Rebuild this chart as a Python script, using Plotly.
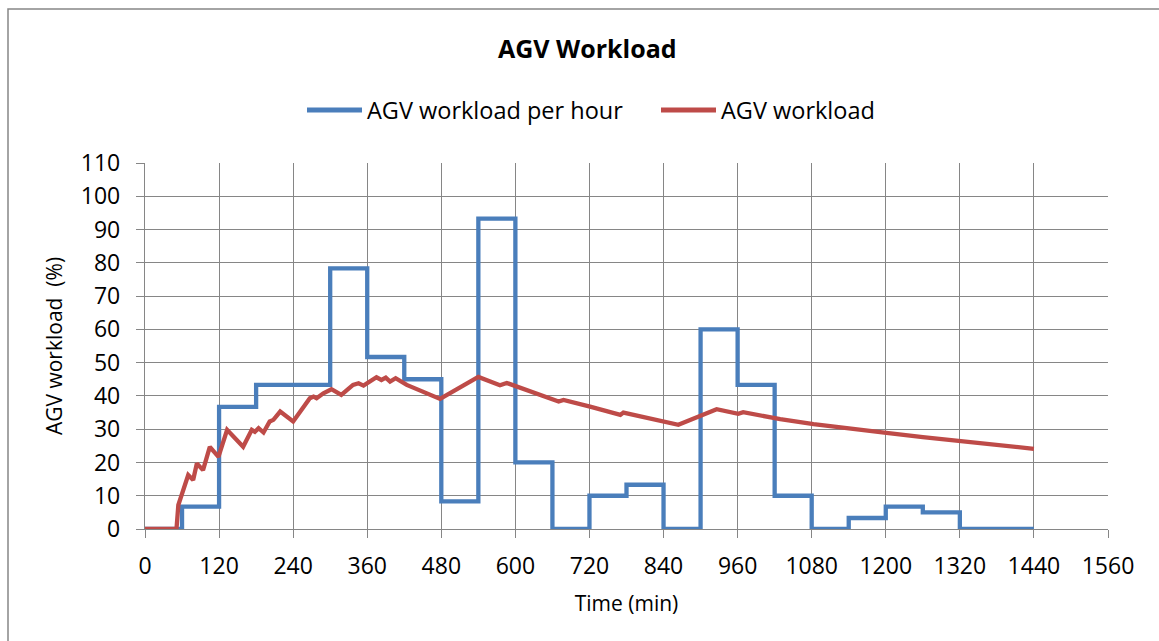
import plotly.graph_objects as go

# Hourly workload (step series), value holds from each hour start
hour_start = [0, 60, 120, 180, 240, 300, 360, 420, 480, 540, 600, 660, 720, 780,
              840, 900, 960, 1020, 1080, 1140, 1200, 1260, 1320, 1380, 1440]
hourly_load = [0, 6.7, 36.7, 43.3, 43.3, 78.3, 51.7, 45.0, 8.3, 93.3, 20.0, 0, 10.0,
               13.3, 0, 60.0, 43.3, 10.0, 0, 3.3, 6.7, 5.0, 0, 0, 0]

# Running workload curve
run_time = [0, 51, 54, 62, 70, 78, 84, 94, 105, 119, 133, 159, 173, 178, 184, 192,
            202, 208, 219, 240, 267, 273, 278, 289, 302, 318, 337, 346, 354, 375,
            383, 390, 397, 406, 424, 478, 540, 575, 586, 670, 678, 721, 770, 775,
            864, 926, 961, 969, 1029, 1083, 1153, 1158, 1201, 1260, 1315, 1380, 1440]
run_load = [0, 0, 7.2, 11.7, 16.2, 14.7, 19.7, 17.7, 24.7, 21.7, 29.8, 24.7, 29.8,
            29.2, 30.3, 29.0, 32.3, 32.8, 35.3, 32.3, 39.3, 39.8, 39.3, 40.8, 42.0,
            40.3, 43.3, 43.8, 43.1, 45.6, 44.8, 45.5, 44.3, 45.3, 43.3, 39.1, 45.7,
            43.2, 43.9, 38.3, 38.8, 36.8, 34.3, 35.0, 31.3, 36.0, 34.6, 35.1, 33.0,
            31.5, 29.8, 29.9, 28.9, 27.6, 26.5, 25.2, 24.1]

x_ticks = list(range(0, 1561, 120))
y_ticks = list(range(0, 111, 10))

series_names = ["AGV workload per hour", "AGV workload"]

BLUE = "#4A7EBB"
RED = "#BE4B48"
GRID = "#868686"
FONT = "Open Sans"

# plot area in pixels (used to place the frame, title and legend in paper units)
W, H = 1159, 641
L, R, T, B = 145, 51, 163, 112
PW, PH = W - L - R, H - T - B


def px_x(p):
    return (p - L) / PW


def px_y(p):
    return (H - B - p) / PH


fig = go.Figure()
fig.add_trace(go.Scatter(x=hour_start, y=hourly_load, mode="lines", line_shape="hv",
                         name=series_names[0], showlegend=False,
                         line=dict(color=BLUE, width=4.3)))
fig.add_trace(go.Scatter(x=run_time, y=run_load, mode="lines",
                         name=series_names[1], showlegend=False,
                         line=dict(color=RED, width=4.3)))

axis_common = dict(showgrid=True, gridcolor=GRID, gridwidth=1.3,
                   showline=True, linecolor=GRID, linewidth=1.3,
                   ticks="outside", ticklen=8, tickcolor=GRID, tickwidth=1.3,
                   zeroline=False, tickfont=dict(family=FONT, size=23, color="#000"))

fig.update_xaxes(range=[0, 1560], tickvals=x_ticks, ticktext=[str(v) for v in x_ticks],
                 ticklabelstandoff=8,
                 title=dict(text="Time (min)", font=dict(family=FONT, size=21, color="#000"),
                            standoff=16),
                 **axis_common)
fig.update_yaxes(range=[0, 110], tickvals=y_ticks, ticktext=[str(v) for v in y_ticks],
                 ticklabelstandoff=11,
                 title=dict(text="AGV workload \u00a0(%)", font=dict(family=FONT, size=21, color="#000"),
                            standoff=12),
                 **axis_common)

# legend drawn as line samples plus labels
legend_items = [(series_names[0], BLUE, 307, 362, 365),
                (series_names[1], RED, 661, 716, 719)]
shapes = [dict(type="rect", xref="paper", yref="paper",
               x0=px_x(8), x1=px_x(W + 5), y0=px_y(H + 5), y1=px_y(9),
               line=dict(color=GRID, width=1.5), fillcolor="rgba(0,0,0,0)",
               layer="below")]
annotations = []
for name, color, x0, x1, xt in legend_items:
    shapes.append(dict(type="line", xref="paper", yref="paper",
                       x0=px_x(x0), x1=px_x(x1), y0=px_y(110), y1=px_y(110),
                       line=dict(color=color, width=5)))
    annotations.append(dict(text=name, xref="paper", yref="paper",
                            x=px_x(xt), y=px_y(110), xanchor="left", yanchor="middle",
                            showarrow=False,
                            font=dict(family=FONT, size=23.5, color="#000")))

# chart title
annotations.append(dict(text="<b>AGV Workload</b>", xref="paper", yref="paper",
                        x=px_x(587), y=px_y(48), xanchor="center", yanchor="middle",
                        showarrow=False,
                        font=dict(family=FONT, size=25, color="#000")))

fig.update_layout(
    width=W, height=H,
    margin=dict(l=L, r=R, t=T, b=B),
    plot_bgcolor="white", paper_bgcolor="white",
    showlegend=False,
    shapes=shapes,
    annotations=annotations,
)

fig.write_html("out.html")
